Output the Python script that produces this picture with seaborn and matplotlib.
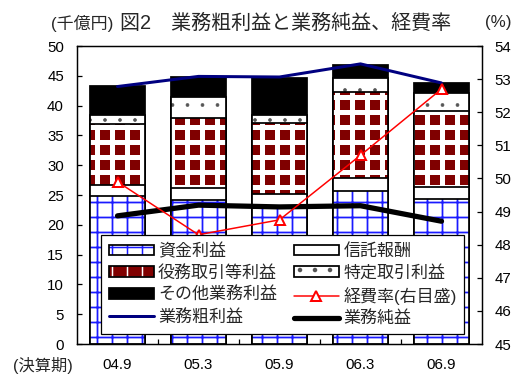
import numpy as np
import matplotlib
matplotlib.use("Agg")
import matplotlib.pyplot as plt
import seaborn as sns
from matplotlib.legend_handler import HandlerTuple

# ---- data (千億円 / %) ----
periods  = ["04.9", "05.3", "05.9", "06.3", "06.9"]
shikin   = [24.8, 24.2, 22.8, 25.7, 24.4]   # 資金利益
shintaku = [1.9, 2.0, 2.3, 2.2, 2.0]        # 信託報酬
ekimu    = [10.2, 11.8, 11.9, 14.4, 12.7]   # 役務取引等利益
tokutei  = [1.6, 3.4, 1.5, 2.3, 3.0]        # 特定取引利益
sonota   = [4.8, 3.4, 6.2, 2.2, 1.7]        # その他業務利益
gross    = [43.2, 44.9, 44.8, 47.0, 43.8]   # 業務粗利益
net      = [21.5, 23.3, 23.0, 23.2, 20.6]   # 業務純益
ratio    = [49.9, 48.3, 48.75, 50.7, 52.7]  # 経費率(右目盛)

bar_labels = ["資金利益", "信託報酬", "役務取引等利益", "特定取引利益", "その他業務利益"]

sns.set_style("white")
plt.rcParams["font.family"] = ["Liberation Sans", "Noto Sans CJK JP"]
plt.rcParams["hatch.linewidth"] = 1.2

DPI = 90
fig = plt.figure(figsize=(516 / DPI, 374 / DPI), dpi=DPI)
ax = fig.add_axes([77 / 516, 1 - 344 / 374, (482 - 77) / 516, (344 - 46) / 374])

layers = [shikin, shintaku, ekimu, tokutei, sonota]
cums = np.cumsum(np.array(layers), axis=0)

styles = [
    dict(face="white", hatch="+", hcolor="#1a1aff", hlw=1.4),
    dict(face="white", hatch=None),
    dict(face="#800000", hatch="+", hcolor="white", hlw=4.0),
    dict(face="white", hatch=".", hcolor="#555555", hlw=0.5),
    dict(face="black", hatch=None),
]
BAR_W = 0.67
EDGE_LW = 1.4
bar_handles = [None] * 5

for i in range(4, -1, -1):
    st = styles[i]
    n0 = len(ax.patches)
    sns.barplot(x=periods, y=cums[i], color=st["face"], saturation=1,
                width=BAR_W, errorbar=None, ax=ax)
    faces = ax.patches[n0:]
    for p in faces:
        p.set_facecolor(st["face"])
        if st["hatch"]:
            p.set_hatch(st["hatch"])
            p.set_edgecolor(st["hcolor"])
            p.set_linewidth(0)
            if hasattr(p, "set_hatch_linewidth"):
                p.set_hatch_linewidth(st["hlw"])
        else:
            p.set_edgecolor("black")
            p.set_linewidth(EDGE_LW)
    if st["hatch"]:
        n1 = len(ax.patches)
        sns.barplot(x=periods, y=cums[i], color="black", saturation=1,
                    width=BAR_W, errorbar=None, ax=ax)
        outs = ax.patches[n1:]
        for p in outs:
            p.set_facecolor("none")
            p.set_edgecolor("black")
            p.set_linewidth(EDGE_LW)
        bar_handles[i] = (faces[0], outs[0])
    else:
        bar_handles[i] = faces[0]

# lines on the left axis
n0 = len(ax.lines)
sns.pointplot(x=periods, y=gross, color="#000080", marker="", linewidth=2.4,
              errorbar=None, ax=ax)
l_gross = ax.lines[n0]
n0 = len(ax.lines)
sns.pointplot(x=periods, y=net, color="black", marker="", linewidth=4.2,
              errorbar=None, ax=ax)
l_net = ax.lines[n0]

# expense ratio on the right axis
ax2 = ax.twinx()
n0 = len(ax2.lines)
sns.pointplot(x=periods, y=ratio, color="red", marker="^", linewidth=1.2,
              markersize=8, markerfacecolor="white", markeredgecolor="red",
              markeredgewidth=1.6, errorbar=None, ax=ax2)
l_ratio = ax2.lines[n0]

# axes formatting
ax.set_xlim(-0.5, len(periods) - 0.5)
ax.set_ylim(0, 50)
ax.set_yticks(np.arange(0, 51, 5))
ax2.set_ylim(45, 54)
ax2.set_yticks(np.arange(45, 55, 1))
ax.set_xlabel("")
ax.set_ylabel("")
ax2.set_ylabel("")
ax.set_xticks(np.arange(len(periods)))
ax.set_xticklabels(periods)
ax.set_xticks(np.arange(len(periods) - 1) + 0.5, minor=True)

ax.tick_params(axis="y", direction="in", length=4, width=1, labelsize=12,
               pad=10.5, colors="black", left=True)
ax2.tick_params(axis="y", direction="in", length=4, width=1, labelsize=12,
                pad=10, colors="black", right=True)
ax.tick_params(axis="x", which="major", length=0, labelsize=12, pad=11,
               colors="black")
ax.tick_params(axis="x", which="minor", direction="in", length=4, width=1,
               bottom=True, color="black")
for a in (ax, ax2):
    for s in a.spines.values():
        s.set_color("black")
        s.set_linewidth(1.0)
        s.set_visible(True)
    a.grid(False)

# legend
handles = [bar_handles[0], bar_handles[2], bar_handles[4], l_gross,
           bar_handles[1], bar_handles[3], l_ratio, l_net]
labels = [bar_labels[0], bar_labels[2], bar_labels[4], "業務粗利益",
          bar_labels[1], bar_labels[3], "経費率(右目盛)", "業務純益"]
leg = ax2.legend(handles, labels, ncol=2, loc="upper left",
                 bbox_to_anchor=(24 / 405, 109 / 298), borderaxespad=0,
                 frameon=True, fancybox=False, framealpha=1, edgecolor="black",
                 fontsize=13.6, handlelength=2.65, handleheight=0.6,
                 handletextpad=0.25, columnspacing=1.0, labelspacing=0.35,
                 borderpad=0.45,
                 handler_map={tuple: HandlerTuple(ndivide=1, pad=0)})
leg.get_frame().set_linewidth(1.0)

# titles / unit labels
yt = 1 - 23 / 374
fig.text(51 / 516, yt, "(千億円)", fontsize=13.6, va="center", ha="left")
fig.text(120 / 516, yt, "図2　業務粗利益と業務純益、経費率", fontsize=16,
         va="center", ha="left")
fig.text(485 / 516, yt, "(%)", fontsize=13.6, va="center", ha="left")
fig.text(13 / 516, 1 - 365 / 374, "(決算期)", fontsize=13, va="center", ha="left")

fig.savefig("out.png", dpi=DPI)
